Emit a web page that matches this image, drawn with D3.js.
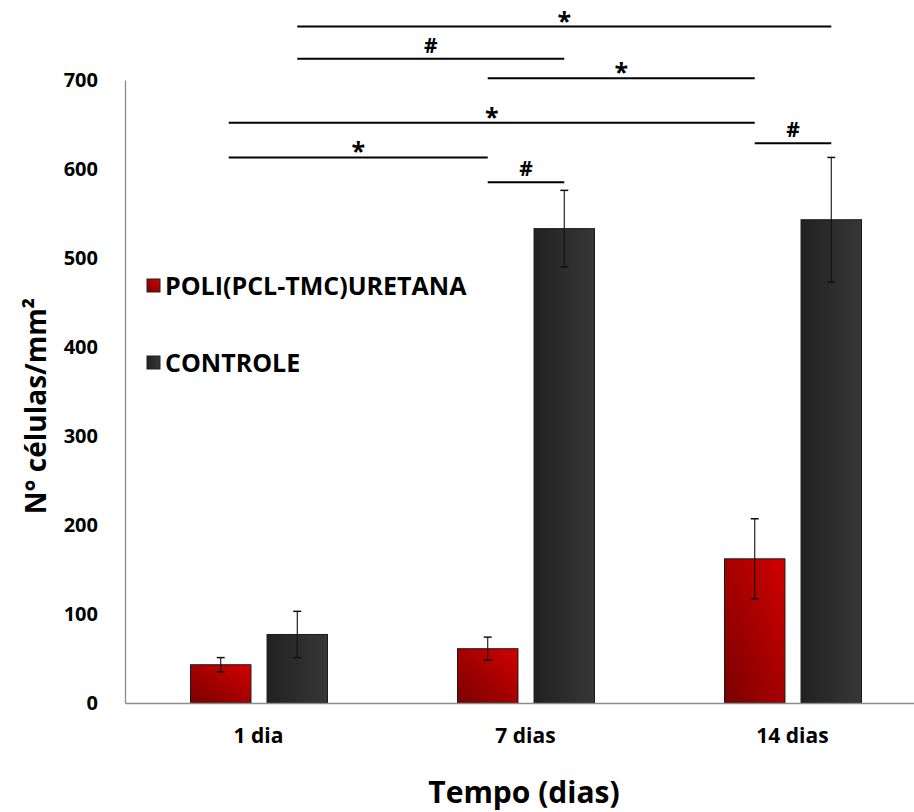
<html>
  <head>
    <meta charset="utf-8">
    <title>Nº células por tempo</title>
    <style>
    body{
      margin: 0;
      background-color: #fff;
    }
    text{
      font-family: "Open Sans", "DejaVu Sans", sans-serif;
      font-weight: bold;
      fill: #000;
    }
    </style>
    <script src="https://cdn.jsdelivr.net/npm/d3@7"></script>
  </head>
  <body>
    <div id="container"></div>
    <script>
    //chart data
    const categories = ["1 dia", "7 dias", "14 dias"];
    const seriesNames = ["POLI(PCL-TMC)URETANA", "CONTROLE"];
    const poliValues = [43, 61, 162];
    const poliErrors = [8, 13, 45];
    const controleValues = [77, 533, 543];
    const controleErrors = [26, 43, 70];
    const yTicks = [0, 100, 200, 300, 400, 500, 600, 700];

    //significance brackets: [category, series] to [category, series], symbol, height in y units
    const sigFrom = [["1 dia", 1], ["1 dia", 1], ["7 dias", 0], ["1 dia", 0], ["14 dias", 0], ["1 dia", 0], ["7 dias", 0]];
    const sigTo = [["14 dias", 1], ["7 dias", 1], ["14 dias", 0], ["14 dias", 0], ["14 dias", 1], ["7 dias", 0], ["7 dias", 1]];
    const sigMarks = ["*", "#", "*", "*", "#", "*", "#"];
    const sigLevels = [760, 724, 702, 652, 629, 613, 585];

    //size of svg area
    const width = 914,
          height = 812;

    var svg = d3.select("#container")
      .append("svg")
      .attr("width", width)
      .attr("height", height);

    //gradients for the bars
    var defs = svg.append("defs");
    var redGrad = defs.append("linearGradient")
      .attr("id", "redGrad")
      .attr("x1", "0%").attr("y1", "100%")
      .attr("x2", "100%").attr("y2", "0%");
    redGrad.append("stop").attr("offset", "0%").attr("stop-color", "#7a0000");
    redGrad.append("stop").attr("offset", "100%").attr("stop-color", "#d10000");

    var darkGrad = defs.append("linearGradient")
      .attr("id", "darkGrad")
      .attr("x1", "0%").attr("y1", "0%")
      .attr("x2", "100%").attr("y2", "0%");
    darkGrad.append("stop").attr("offset", "0%").attr("stop-color", "#212121");
    darkGrad.append("stop").attr("offset", "100%").attr("stop-color", "#383737");

    const fills = ["url(#redGrad)", "url(#darkGrad)"];

    //scales
    var x0 = d3.scaleBand()
      .domain(categories)
      .range([125, 926])
      .paddingInner(0);

    var x1 = d3.scaleBand()
      .domain([0, 1])
      .range([65.5, 202.5])
      .paddingInner(0.21);

    var y = d3.scaleLinear()
      .domain([0, 700])
      .range([703, 80]);

    //rows built from the arrays
    var rows = [];
    categories.forEach(function(c, i){
      rows.push({cat: c, s: 0, v: poliValues[i], e: poliErrors[i]});
      rows.push({cat: c, s: 1, v: controleValues[i], e: controleErrors[i]});
    });

    function barCenter(cat, s){
      return x0(cat) + x1(s) + x1.bandwidth() / 2;
    }

    //y axis
    var yAxis = svg.append("g")
      .attr("transform", "translate(125,0)")
      .call(d3.axisLeft(y).tickValues(yTicks).tickSize(0).tickPadding(27));
    yAxis.select(".domain").attr("stroke", "#8c8c8c").attr("stroke-width", 1.3);
    yAxis.selectAll("text")
      .style("font-size", "20px");

    //bars
    svg.selectAll("rect.bar")
      .data(rows)
      .enter()
      .append("rect")
      .attr("class", "bar")
      .attr("x", function(d) {return x0(d.cat) + x1(d.s);})
      .attr("y", function(d) {return y(d.v);})
      .attr("width", x1.bandwidth())
      .attr("height", function(d) {return y(0) - y(d.v);})
      .attr("fill", function(d) {return fills[d.s];})
      .attr("stroke", "#1a1a1a")
      .attr("stroke-width", 1);

    //x axis
    var xAxis = svg.append("g")
      .attr("transform", "translate(0,703)")
      .call(d3.axisBottom(x0).tickSize(0).tickPadding(25));
    xAxis.select(".domain").attr("stroke", "#8c8c8c").attr("stroke-width", 1.5);
    xAxis.selectAll("text")
      .style("font-size", "21px");

    //error bars
    var err = svg.selectAll("g.err")
      .data(rows)
      .enter()
      .append("g")
      .attr("class", "err");
    err.append("line")
      .attr("x1", function(d) {return barCenter(d.cat, d.s);})
      .attr("x2", function(d) {return barCenter(d.cat, d.s);})
      .attr("y1", function(d) {return y(d.v + d.e);})
      .attr("y2", function(d) {return y(d.v - d.e);})
      .attr("stroke", "#111")
      .attr("stroke-width", 1.1);
    [1, -1].forEach(function(sign){
      err.append("line")
        .attr("x1", function(d) {return barCenter(d.cat, d.s) - 4;})
        .attr("x2", function(d) {return barCenter(d.cat, d.s) + 4;})
        .attr("y1", function(d) {return y(d.v + sign * d.e);})
        .attr("y2", function(d) {return y(d.v + sign * d.e);})
        .attr("stroke", "#111")
        .attr("stroke-width", 1.5);
    });

    //significance lines
    var sig = svg.selectAll("g.sig")
      .data(sigMarks.map(function(m, i){
        return {a: sigFrom[i], b: sigTo[i], mark: m, level: sigLevels[i]};
      }))
      .enter()
      .append("g")
      .attr("class", "sig");
    //lines from the first group start a bit right of the bar center, like the original
    function sigStart(d){
      return barCenter(d.a[0], d.a[1]) + (d.a[0] == "1 dia" && d.a[1] == 0 ? 8 : 0);
    }
    sig.append("line")
      .attr("x1", sigStart)
      .attr("x2", function(d) {return barCenter(d.b[0], d.b[1]);})
      .attr("y1", function(d) {return y(d.level);})
      .attr("y2", function(d) {return y(d.level);})
      .attr("stroke", "#000")
      .attr("stroke-width", 2);
    sig.append("text")
      .attr("x", function(d) {return (sigStart(d) + barCenter(d.b[0], d.b[1])) / 2;})
      .attr("y", function(d) {return y(d.level) - (d.mark == "*" ? -3 : 6);})
      .attr("text-anchor", "middle")
      .style("font-size", function(d) {return d.mark == "*" ? "25px" : "21px";})
      .text(function(d) {return d.mark;});

    //legend
    var legend = svg.selectAll("g.legend")
      .data(seriesNames)
      .enter()
      .append("g")
      .attr("class", "legend")
      .attr("transform", function(d, i) {return "translate(147," + (279 + i * 77) + ")";});
    legend.append("rect")
      .attr("width", 13)
      .attr("height", 13)
      .attr("fill", function(d, i) {return fills[i];})
      .attr("stroke", "#222")
      .attr("stroke-width", 1);
    legend.append("text")
      .attr("x", 18)
      .attr("y", 7)
      .attr("dy", "0.35em")
      .style("font-size", "25px")
      .text(function(d) {return d;});

    //axis titles
    svg.append("text")
      .attr("x", 524)
      .attr("y", 803)
      .attr("text-anchor", "middle")
      .style("font-size", "30px")
      .text("Tempo (dias)");

    svg.append("text")
      .attr("transform", "translate(46,406) rotate(-90)")
      .attr("text-anchor", "middle")
      .style("font-size", "28px")
      .text("N° células/mm²");
    </script>
  </body>
</html>
